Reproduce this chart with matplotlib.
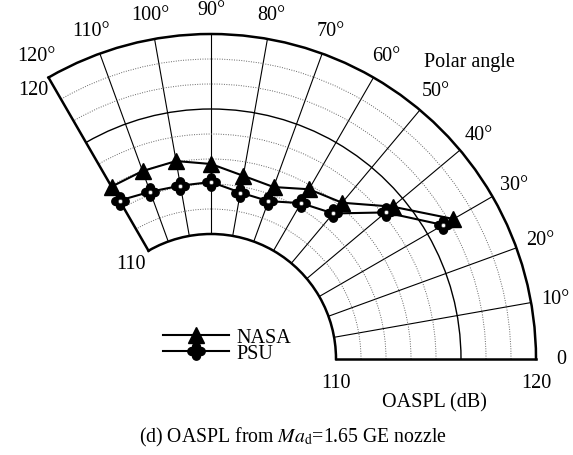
import numpy as np
import matplotlib
matplotlib.use("Agg")
import matplotlib.pyplot as plt
from matplotlib.path import Path

plt.rcParams['font.family'] = ['Liberation Serif', 'DejaVu Serif']
plt.rcParams['mathtext.fontset'] = 'stix'

# polar angle (deg) and OASPL (dB)
angles = [120, 110, 100, 90, 80, 70, 60, 50, 40, 30]
nasa = [113.7, 113.75, 113.8, 113.5, 113.05, 112.9, 113.55, 113.95, 115.6, 117.75]
psu = [112.9, 112.65, 112.55, 112.6, 112.2, 112.15, 112.75, 113.25, 115.15, 117.15]

theta_ticks = [0, 10, 20, 30, 40, 50, 60, 70, 80, 90, 100, 110, 120]
theta_labels = ['0'] + ['%d°' % a for a in theta_ticks[1:]]
r_grid = [111.25, 112.5, 113.75, 115.0, 116.25, 117.5, 118.75]

W, H = 573, 456
fig = plt.figure(figsize=(W / 100, H / 100), dpi=100)
cx, cy, R = 211, 360, 325   # wanted centre and outer radius, pixels from top-left
ax = fig.add_axes([0.1, 0.2, 0.8, 0.7], projection='polar')
ax.set_thetamin(0)
ax.set_thetamax(120)
ax.set_rlim(110, 120)
ax.set_rorigin(103.75)

# fit the wedge to the wanted centre / radius
for _ in range(4):
    fig.canvas.draw()
    c = ax.transData.transform((0, 103.75))
    o = ax.transData.transform((0, 120))
    s = R / (o[0] - c[0])
    bb = ax.get_window_extent()
    fx = (c[0] - bb.x0) / bb.width
    fy = (c[1] - bb.y0) / bb.height
    w, h = bb.width * s, bb.height * s
    x0 = cx - fx * w
    y0 = (H - cy) - fy * h
    ax.set_position([x0 / W, y0 / H, w / W, h / H])

ax.set_thetagrids(theta_ticks[1:-1], [''] * (len(theta_ticks) - 2))
ax.set_rgrids(r_grid, [''] * len(r_grid))
for gl in ax.xaxis.get_gridlines():
    gl.set_color('black')
    gl.set_linewidth(0.8)
    gl.set_linestyle('-')
for v, gl in zip(r_grid, ax.yaxis.get_gridlines()):
    if v == 116.25:
        gl.set_color('black')
        gl.set_linewidth(1.0)
        gl.set_linestyle('-')
    else:
        gl.set_color('0.4')
        gl.set_linewidth(0.7)
        gl.set_linestyle((0, (1, 1.5)))
ax.tick_params(length=0)
for sp in ax.spines.values():
    sp.set_linewidth(1.8)
    sp.set_color('black')

# quatrefoil marker for PSU
lobes = [Path.circle((dx, dy), 0.42) for dx, dy in [(0.5, 0), (-0.5, 0), (0, 0.5), (0, -0.5)]]
lobes.append(Path.circle((0, 0), 0.55))
clover = Path.make_compound_path(*lobes)

th = np.deg2rad(angles)
ax.plot(th, nasa, color='black', lw=1.5, marker='^', ms=11, mfc='black', mec='black',
        label='NASA', clip_on=False, zorder=5)
ax.plot(th, psu, color='black', lw=1.5, marker=clover, ms=12.5, mfc='black', mec='black',
        label='PSU', clip_on=False, zorder=6)
ax.plot(th, psu, ls='none', marker='o', ms=3, mfc='white', mec='0.2', mew=0.5,
        clip_on=False, zorder=7)

fs = 14.5
for a, lab in zip(theta_ticks, theta_labels):
    ax.text(np.deg2rad(a), 121.25, lab, ha='center', va='center', fontsize=fs, clip_on=False)

ax.annotate('110', (0, 110), xytext=(0, -10), textcoords='offset points',
            ha='center', va='top', fontsize=fs, annotation_clip=False)
ax.annotate('120', (0, 120), xytext=(0, -10), textcoords='offset points',
            ha='center', va='top', fontsize=fs, annotation_clip=False)
ax.annotate('110', (np.deg2rad(120), 110), xytext=(-2, -2), textcoords='offset points',
            ha='right', va='top', fontsize=fs, annotation_clip=False)
ax.annotate('120', (np.deg2rad(120), 120), xytext=(0, -2), textcoords='offset points',
            ha='right', va='top', fontsize=fs, annotation_clip=False)

fig.text(424 / W, 1 - 62 / H, 'Polar angle', ha='left', va='center', fontsize=fs)
fig.text(382 / W, 1 - 403 / H, 'OASPL (dB)', ha='left', va='center', fontsize=fs)
fig.text(293 / W, 1 - 437 / H, '(d) OASPL from $Ma_{\\rm d}$=1.65 GE nozzle',
         ha='center', va='center', fontsize=14.2)

leg = ax.legend(loc='upper left', bbox_to_anchor=(163 / W, 1 - 329 / H),
                bbox_transform=fig.transFigure, frameon=False, handlelength=3.3,
                handletextpad=0.35, labelspacing=-0.17, borderaxespad=0, borderpad=0,
                fontsize=fs)

fig.savefig('out.png', dpi=100)
